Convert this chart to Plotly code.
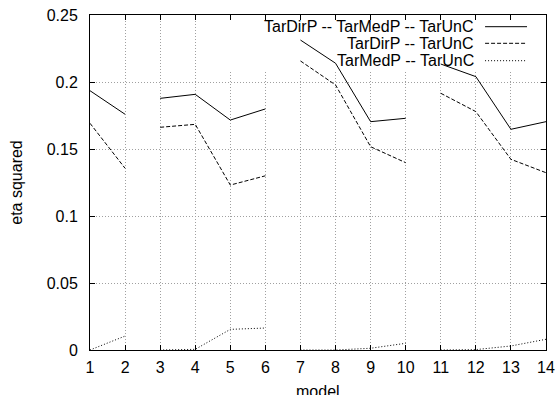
import plotly.graph_objects as go

models = list(range(1, 15))
groups = [[1, 2], [3, 4, 5, 6], [7, 8, 9, 10], [11, 12, 13, 14]]

dir_med_unc = [0.1935, 0.1759, 0.1878, 0.1908, 0.1716, 0.1799, 0.2313,
               0.2140, 0.1704, 0.1729, 0.2134, 0.2040, 0.1647, 0.1704]
dir_unc = [0.1692, 0.1356, 0.1662, 0.1684, 0.1231, 0.1300, 0.2157,
           0.1978, 0.1517, 0.1398, 0.1916, 0.1779, 0.1423, 0.1323]
med_unc = [0.0, 0.0104, 0.0, 0.0005, 0.0154, 0.0164, 0.0,
           0.0, 0.0013, 0.0050, 0.0, 0.0003, 0.0030, 0.0080]

series = [
    ("TarDirP -- TarMedP -- TarUnC", dir_med_unc, "solid"),
    ("TarDirP -- TarUnC", dir_unc, "4px,2px"),
    ("TarMedP -- TarUnC", med_unc, "1px,2px"),
]

FONT = "Liberation Sans, Arial, Helvetica, sans-serif"
L, R, T, B = 89.5, 13, 15, 45
W, H = 559, 395
pw, ph = W - L - R, H - T - B

fig = go.Figure()
for name, vals, dash in series:
    for g in groups:
        fig.add_trace(go.Scatter(
            x=g, y=[vals[m - 1] for m in g], mode="lines",
            line=dict(color="black", width=1, dash=dash),
            showlegend=False, hoverinfo="skip", name=name))

# opaque key background (covers grid, under lines)
fig.add_shape(type="rect", xref="x", yref="y", x0=4.58, x1=14, y0=0.209, y1=0.25,
              fillcolor="white", line=dict(width=0), layer="between")

def px_x(p):
    return (p - L) / pw

def px_y(p):
    return (H - B - p) / ph

key_rows = [26.7, 43.3, 60.7]
for (name, vals, dash), yy in zip(series, key_rows):
    fig.add_annotation(x=px_x(476), y=px_y(yy), xref="paper", yref="paper",
                       text=name, showarrow=False, xanchor="right", yanchor="middle",
                       font=dict(family=FONT, size=16, color="black"))
    fig.add_shape(type="line", xref="paper", yref="paper",
                  x0=px_x(485), x1=px_x(527), y0=px_y(yy), y1=px_y(yy),
                  line=dict(color="black", width=1, dash=dash), layer="above")

# x-axis title (gnuplot places it partly below the canvas edge)
fig.add_annotation(x=0.5, y=px_y(391.5), xref="paper", yref="paper",
                   text="model", showarrow=False, xanchor="center", yanchor="middle",
                   font=dict(family=FONT, size=16, color="black"))

axis_common = dict(
    showline=True, linecolor="black", linewidth=1, mirror="ticks",
    ticks="inside", ticklen=5, tickcolor="black",
    showgrid=True, gridcolor="#a0a0a0", griddash="1px,2px", gridwidth=1,
    zeroline=False, tickfont=dict(family=FONT, size=16, color="black"),
    ticklabeloverflow="allow", automargin=False,
)

fig.update_xaxes(range=[1, 14], dtick=1, tick0=1, ticklabelstandoff=3,
                 **axis_common)
fig.update_yaxes(range=[0, 0.25], dtick=0.05, tick0=0, ticklabelstandoff=8,
                 title=dict(text="eta squared", font=dict(family=FONT, size=16, color="black"), standoff=20),
                 **axis_common)

fig.update_layout(
    width=W, height=H,
    margin=dict(l=L, r=R, t=T, b=B),
    paper_bgcolor="white", plot_bgcolor="white",
    font=dict(family=FONT, size=16, color="black"),
    showlegend=False,
)

fig.write_html("out.html", config={"displayModeBar": False},
               post_script="document.body.style.margin='0';")
